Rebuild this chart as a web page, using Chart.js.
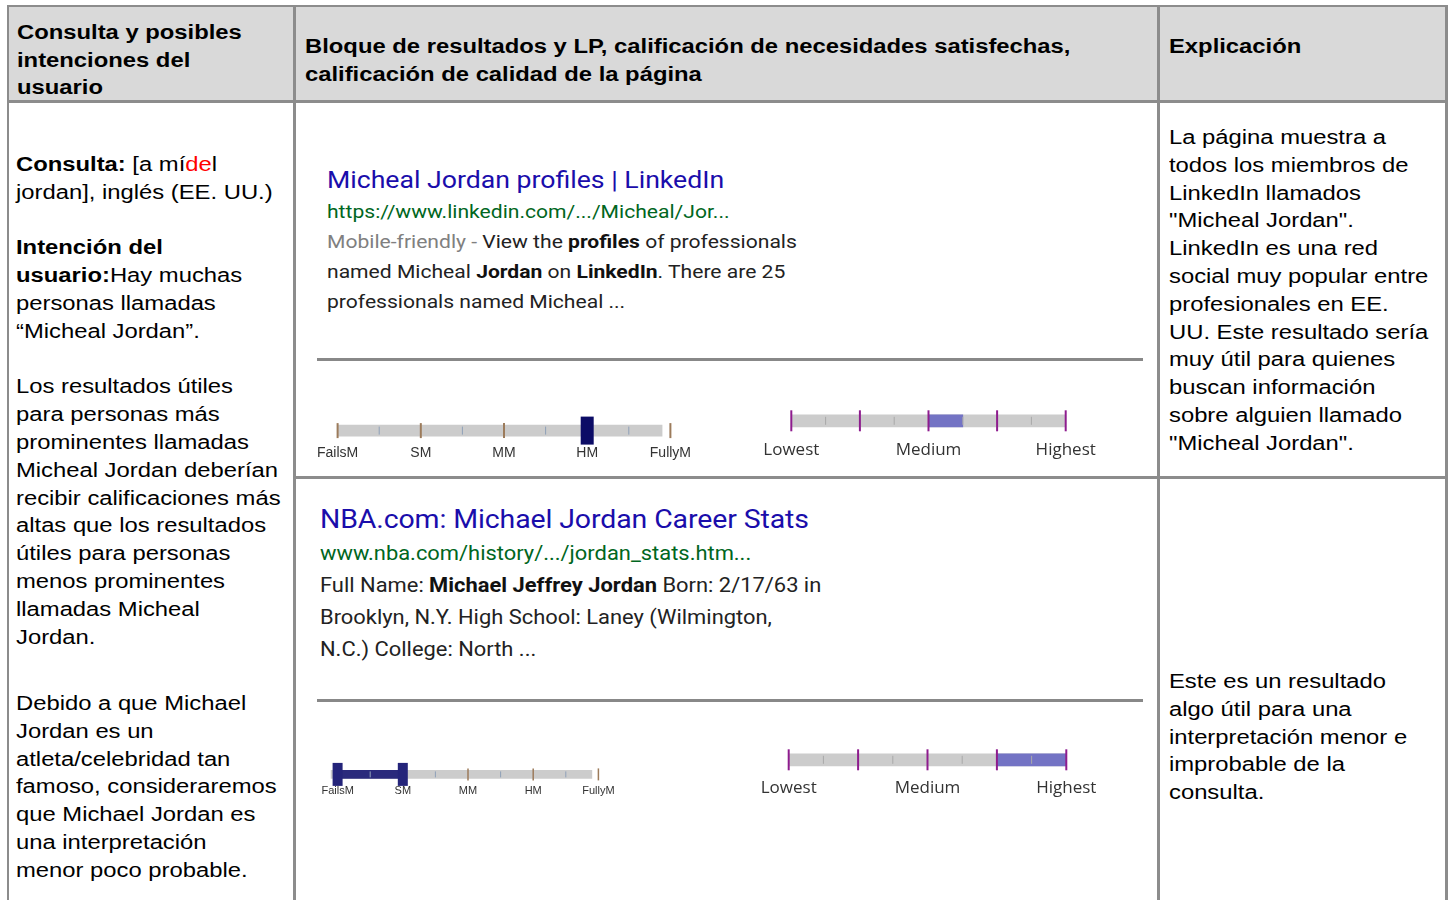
<!DOCTYPE html>
<html lang="es">
<head>
<meta charset="utf-8">
<title>Calificación de necesidades satisfechas y calidad de la página</title>
<script src="https://cdn.jsdelivr.net/npm/chart.js@4.4.1/dist/chart.umd.min.js"></script>
<style>
  body { margin: 0; background: #fff; }
  #page { position: relative; width: 1452px; height: 900px; overflow: hidden;
          font-family: "Liberation Sans", Arial, sans-serif; color: #000; }
  .rule { position: absolute; background: #8c8c8c; }
  .txt { position: absolute; white-space: nowrap; font-size: 20px; line-height: 27.8px;
         transform: scaleX(1.19); transform-origin: 0 0; }
  .hd { font-weight: bold; line-height: 27.5px; }
  .serp { position: absolute; white-space: nowrap; font-family: Roboto, sans-serif;
          color: #222; transform: scaleX(1.1); transform-origin: 0 0; }
  .serp b { color: #111; }
  .slider { position: absolute; }
</style>
</head>
<body>
<div id="page">
  <!-- header band + table rules -->
  <div style="position:absolute;left:8px;top:6px;width:1439px;height:95px;background:#d9d9d9"></div>
  <div class="rule" style="left:7px;top:5px;width:1441px;height:2px"></div>
  <div class="rule" style="left:7px;top:5px;width:2px;height:895px"></div>
  <div class="rule" style="left:293px;top:5px;width:3px;height:895px"></div>
  <div class="rule" style="left:1157px;top:5px;width:3px;height:895px"></div>
  <div class="rule" style="left:1445px;top:5px;width:3px;height:895px"></div>
  <div class="rule" style="left:7px;top:100px;width:1441px;height:3px"></div>
  <div class="rule" style="left:293px;top:476px;width:1155px;height:3px"></div>
  <div class="rule" style="left:317px;top:358px;width:826px;height:3px;background:#888"></div>
  <div class="rule" style="left:317px;top:699px;width:826px;height:3px;background:#888"></div>

  <!-- header -->
  <div class="txt hd" style="left:17px;top:19px">Consulta y posibles<br>intenciones del<br>usuario</div>
  <div class="txt hd" style="left:305px;top:33px">Bloque de resultados y LP, calificación de necesidades satisfechas,<br>calificación de calidad de la página</div>
  <div class="txt hd" style="left:1169px;top:33px">Explicación</div>

  <!-- left column -->
  <div class="txt" style="left:16px;top:151px">
    <b>Consulta:</b> [a mí<span style="color:#f00">de</span>l<br>jordan], inglés (EE. UU.)<br><br>
    <b>Intención del<br>usuario:</b>Hay muchas<br>personas llamadas<br>“Micheal Jordan”.<br><br>
    Los resultados útiles<br>para personas más<br>prominentes llamadas<br>Micheal Jordan deberían<br>recibir calificaciones más<br>altas que los resultados<br>útiles para personas<br>menos prominentes<br>llamadas Micheal<br>Jordan.
  </div>
  <div class="txt" style="left:16px;top:690px">
    Debido a que Michael<br>Jordan es un<br>atleta/celebridad tan<br>famoso, consideraremos<br>que Michael Jordan es<br>una interpretación<br>menor poco probable.
  </div>

  <!-- right column -->
  <div class="txt" style="left:1169px;top:124px">
    La página muestra a<br>todos los miembros de<br>LinkedIn llamados<br>"Micheal Jordan".<br>LinkedIn es una red<br>social muy popular entre<br>profesionales en EE.<br>UU. Este resultado sería<br>muy útil para quienes<br>buscan información<br>sobre alguien llamado<br>"Micheal Jordan".
  </div>
  <div class="txt" style="left:1169px;top:668px">
    Este es un resultado<br>algo útil para una<br>interpretación menor e<br>improbable de la<br>consulta.
  </div>

  <!-- result blocks -->
  <div class="serp" style="left:327px;top:165px;font-size:19px;line-height:30px;transform:scaleX(1.11)">
    <span style="font-size:24px;color:#1a0dab">Micheal Jordan profiles | LinkedIn</span><br>
    <span style="color:#006621">https://www.linkedin.com/.../Micheal/Jor...</span><br>
    <span style="color:#808080">Mobile-friendly - </span>View the <b>profiles</b> of professionals<br>
    named Micheal <b>Jordan</b> on <b>LinkedIn</b>. There are 25<br>
    professionals named Micheal ...
  </div>
  <div class="serp" style="left:320px;top:503px;font-size:20px;line-height:32px;transform:scaleX(1.095)">
    <span style="font-size:26px;color:#1a0dab;letter-spacing:-0.1px">NBA.com: Michael Jordan Career Stats</span><br>
    <span style="color:#006621">www.nba.com/history/.../jordan_stats.htm...</span><br>
    Full Name: <b>Michael Jeffrey Jordan</b> Born: 2/17/63 in<br>
    Brooklyn, N.Y. High School: Laney (Wilmington,<br>
    N.C.) College: North ...
  </div>

  <!-- rating sliders -->
  <div class="slider" style="left:296px;top:416px;width:416px;height:46px"><canvas id="nm1"></canvas></div>
  <div class="slider" style="left:754px;top:405px;width:349px;height:58px"><canvas id="pq1"></canvas></div>
  <div class="slider" style="left:305px;top:762px;width:326px;height:36px"><canvas id="nm2"></canvas></div>
  <div class="slider" style="left:752px;top:744px;width:351px;height:56px"><canvas id="pq2"></canvas></div>
</div>

<script>
// scale positions: 0..4, labels shown under the whole steps
const nmLabels = ["FailsM", "SM", "MM", "HM", "FullyM"];
const pqLabels = ["Lowest", "", "Medium", "", "Highest"];
const majorTicks = [0, 1, 2, 3, 4];
const minorTicks = [0.5, 1.5, 2.5, 3.5];

// result 1: LinkedIn
const nm1Track = [0, 3.9];
const nm1Rating = [3];        // HM
const pq1Track = [0, 4];
const pq1Rating = [2, 2.5];   // Medium .. Medium+

// result 2: NBA.com
const nm2Track = [-0.1, 3.9];
const nm2Rating = [0, 1];     // FailsM .. SM
const pq2Track = [0, 4];
const pq2Rating = [3, 4];     // High .. Highest

const pts = (vals) => vals.map((v) => ({ x: v, y: "s" }));

function tickSet(vals, len, width, color, order) {
  return {
    type: "scatter",
    data: pts(vals),
    pointStyle: "line",
    pointRotation: 90,
    pointRadius: len / 2,
    pointBorderWidth: width,
    pointBorderColor: color,
    clip: false,
    order,
  };
}

function slider(id, o) {
  const datasets = [
    { type: "bar", data: [o.track], backgroundColor: "#cccccc", barThickness: o.trackH,
      grouped: false, borderWidth: 0, clip: false, order: 6 },
  ];
  if (o.fill) {
    datasets.push({ type: "bar", data: [o.fill], backgroundColor: o.fillColor, barThickness: o.fillH,
      grouped: false, borderWidth: 0, clip: false, order: 5 });
  }
  datasets.push(tickSet(minorTicks, o.minorLen, 1, o.minorColor, 4));
  datasets.push(tickSet(majorTicks, o.majorLen, o.majorW, o.majorColor, 3));
  if (o.markers) {
    datasets.push(tickSet(o.markers, o.markerLen, o.markerW, o.markerColor, 1));
  }

  new Chart(document.getElementById(id), {
    type: "bar",
    data: { labels: ["s"], datasets },
    options: {
      indexAxis: "y",
      responsive: true,
      maintainAspectRatio: false,
      animation: false,
      events: [],
      devicePixelRatio: 1,
      layout: { autoPadding: false, padding: { top: o.padTop || 0 } },
      plugins: { legend: { display: false }, tooltip: { enabled: false } },
      scales: {
        y: { type: "category", display: false, offset: true },
        x: {
          type: "linear",
          min: -0.5,
          max: 4.5,
          grid: { display: false, drawTicks: false },
          border: { display: false },
          ticks: {
            stepSize: 0.5,
            autoSkip: false,
            maxRotation: 0,
            padding: o.labelPad,
            color: o.labelColor,
            font: o.font,
            callback: (v) => (Number.isInteger(v) ? o.labels[v] : ""),
          },
        },
      },
    },
  });
}

const nmFont = (size) => ({ family: "'Liberation Sans', Arial, sans-serif", size });
const pqFont = { family: "'Open Sans', 'Noto Sans', sans-serif", size: 17 };

slider("nm1", {
  labels: nmLabels, track: nm1Track, trackH: 11,
  minorLen: 8, minorColor: "#8fa0b8",
  majorLen: 15, majorW: 2, majorColor: "#9c7b5b",
  markers: nm1Rating, markerLen: 28, markerW: 13, markerColor: "#0c0c66",
  labelPad: 0, labelColor: "#333", font: nmFont(14),
});

slider("pq1", {
  labels: pqLabels, track: pq1Track, trackH: 12,
  fill: pq1Rating, fillColor: "#7373c4", fillH: 12,
  minorLen: 8, minorColor: "#a8a8a8",
  majorLen: 21, majorW: 2, majorColor: "#8e1c8e",
  labelPad: 3, labelColor: "#333", font: pqFont,
});

slider("nm2", {
  labels: nmLabels, track: nm2Track, trackH: 8,
  fill: nm2Rating, fillColor: "#2a2a7c", fillH: 8,
  minorLen: 6, minorColor: "#8fa0b8",
  majorLen: 12, majorW: 1.5, majorColor: "#9c7b5b",
  markers: nm2Rating, markerLen: 23, markerW: 10, markerColor: "#24247a",
  padTop: 2, labelPad: 0, labelColor: "#333", font: nmFont(11),
});

slider("pq2", {
  labels: pqLabels, track: pq2Track, trackH: 12,
  fill: pq2Rating, fillColor: "#7373c4", fillH: 12,
  minorLen: 8, minorColor: "#a8a8a8",
  majorLen: 21, majorW: 2, majorColor: "#8e1c8e",
  labelPad: 2, labelColor: "#333", font: pqFont,
});
</script>
</body>
</html>
